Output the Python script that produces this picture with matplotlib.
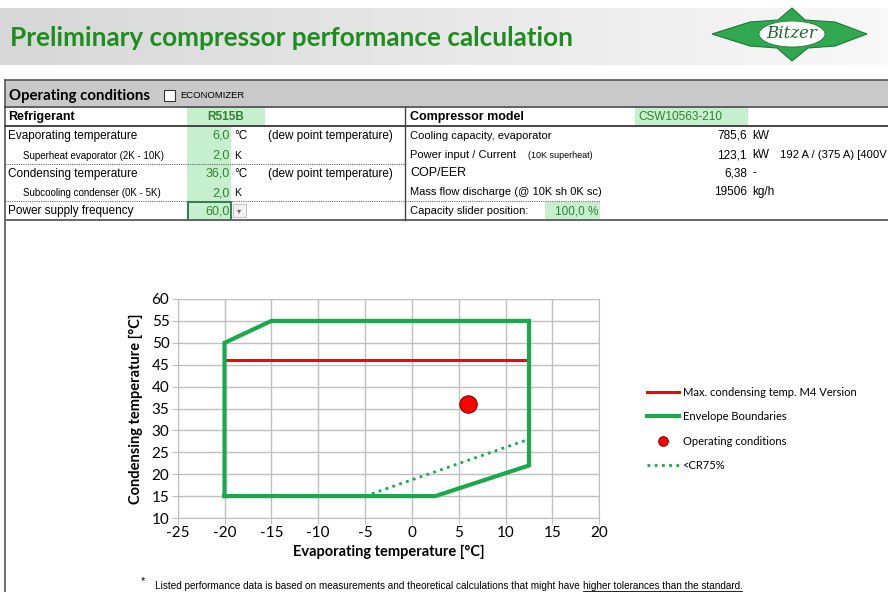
import matplotlib
matplotlib.use("Agg")
import matplotlib.pyplot as plt
import numpy as np
from matplotlib.patches import Rectangle, Polygon, Ellipse

plt.rcParams["axes.unicode_minus"] = False

# chart data
envelope_x = [-20, -20, -15, 12.5, 12.5, 2.5, -20]
envelope_y = [15, 50, 55, 55, 22, 15, 15]
max_cond_x = [-20, 12.5]
max_cond_y = [46, 46]
op_x = [6]
op_y = [36]
cr75_x = [-5, 12.5]
cr75_y = [15, 28]
x_ticks = [-25, -20, -15, -10, -5, 0, 5, 10, 15, 20]
y_ticks = [10, 15, 20, 25, 30, 35, 40, 45, 50, 55, 60]

# table data
left_labels = ["Evaporating temperature", "Superheat evaporator (2K - 10K)",
               "Condensing temperature", "Subcooling condenser (0K - 5K)",
               "Power supply frequency"]
left_indent = [False, True, False, True, False]
left_values = ["6,0", "2,0", "36,0", "2,0", "60,0"]
left_units = ["°C", "K", "°C", "K", ""]
left_notes = ["(dew point temperature)", "", "(dew point temperature)", "", ""]
refrigerant = "R515B"
right_labels = ["Cooling capacity, evaporator", "Power input / Current",
                "COP/EER", "Mass flow discharge (@ 10K sh 0K sc)"]
right_values = ["785,6", "123,1", "6,38", "19506"]
right_units = ["kW", "kW", "-", "kg/h"]
current = "192 A / (375 A) [400V"
compressor = "CSW10563-210"
slider = "100,0 %"

GREEN = "#19a84a"
CELL = "#c6efce"
VAL = "#2f832f"

fig = plt.figure(figsize=(8.88, 5.92), dpi=100)
bg = fig.add_axes([0, 0, 1, 1])
bg.set_xlim(0, 888); bg.set_ylim(592, 0); bg.axis("off")
r = fig.canvas.get_renderer()

# banner
grad = np.linspace(0.84, 0.97, 256).reshape(1, -1)
bg.imshow(grad, extent=(0, 888, 65, 8), cmap="gray", vmin=0, vmax=1, aspect="auto", zorder=0)
bg.text(10, 38, "Preliminary compressor performance calculation", fontsize=18.8,
        fontweight="bold", family="Lato", color="#1e8c1e", va="center")

# logo
logo = Polygon([(712, 34), (750, 22), (778, 20), (792, 8), (805, 20), (835, 22), (867, 34),
                (835, 46), (808, 48), (792, 61), (777, 48), (750, 46)],
               closed=True, fc="#2fa84f", ec="#1c7a34", lw=0.8, zorder=2)
bg.add_patch(logo)
bg.add_patch(Ellipse((792, 34), 66, 26, fc="white", ec="#1c7a34", lw=0.6, zorder=3))
bg.text(792, 34, "Bitzer", fontsize=12, family="DejaVu Serif", style="italic",
        color="#1c6a2c", ha="center", va="center", zorder=4)

# table frame
bg.add_patch(Rectangle((5, 80), 883, 26, fc="#c9c9c9", ec="none"))
bg.plot([5, 888], [80, 80], color="#555555", lw=1.2)
bg.plot([5, 5], [80, 592], color="#555555", lw=1.2)
bg.plot([5, 888], [106.5, 106.5], color="#444444", lw=1.2)
bg.plot([5, 888], [126, 126], color="#444444", lw=1.4)
bg.plot([5, 888], [220, 220], color="#666666", lw=1.4)
bg.plot([405, 405], [107, 220], color="#444444", lw=1.0)
for yy in (164, 201):
    bg.plot([5, 405], [yy, yy], color="#666666", lw=0.8, ls=(0, (1, 1)))
bg.plot([405, 600], [201, 201], color="#666666", lw=0.8, ls=(0, (1, 1)))

bg.text(9, 96, "Operating conditions", fontsize=10.8, fontweight="bold", family="Lato", va="center")
bg.add_patch(Rectangle((164, 90), 11, 11, fc="white", ec="#333333", lw=0.8))
bg.text(180, 96, "ECONOMIZER", fontsize=6.8, family="Liberation Sans", va="center")

# green cells
bg.add_patch(Rectangle((187, 107), 78, 19, fc=CELL, ec="none"))
bg.add_patch(Rectangle((187, 126), 44, 94, fc=CELL, ec="none"))
bg.add_patch(Rectangle((635, 107), 113, 19, fc=CELL, ec="none"))
bg.add_patch(Rectangle((545, 202), 55, 18, fc=CELL, ec="none"))
bg.add_patch(Rectangle((187.5, 201.5), 43, 18.5, fc="none", ec="#217346", lw=1.3))
bg.add_patch(Rectangle((233, 204), 13, 13, fc="#f2f2f2", ec="#bbbbbb", lw=0.6))
bg.text(239.5, 210.5, "▾", fontsize=6, ha="center", va="center", color="#666666")

bg.text(8, 117, "Refrigerant", fontsize=9, fontweight="bold", family="Liberation Sans", va="center")
bg.text(226, 117, refrigerant, fontsize=8.5, family="Liberation Sans", fontweight="bold",
        color=VAL, ha="center", va="center")
row_y = [136, 156, 174, 193, 211]
for y, lab, ind, v, u, n in zip(row_y, left_labels, left_indent, left_values, left_units, left_notes):
    bg.text(23 if ind else 8, y, lab, fontsize=7 if ind else 8.5, family="Liberation Sans", va="center")
    bg.text(230, y, v, fontsize=9, family="Liberation Sans", color=VAL, ha="right", va="center")
    if u:
        bg.text(234, y, u, fontsize=8.5 if u != "K" else 7.5, family="Liberation Sans", va="center")
    if n:
        bg.text(268, y, n, fontsize=8.5, family="Liberation Sans", va="center")

bg.text(410, 117, "Compressor model", fontsize=9, fontweight="bold", family="Liberation Sans", va="center")
bg.text(638, 117, compressor, fontsize=8.5, family="Liberation Sans", color=VAL, va="center")
r_y = [136, 155, 173, 192]
for y, lab, v, u in zip(r_y, right_labels, right_values, right_units):
    fs = 9 if lab == "COP/EER" else 8
    bg.text(410, y, lab, fontsize=fs, family="Liberation Sans", va="center")
    bg.text(747, y, v, fontsize=8.5, family="Liberation Sans", ha="right", va="center")
    bg.text(752, y, u, fontsize=8.5, family="Liberation Sans", va="center")
bg.text(528, 155, "(10K superheat)", fontsize=6.5, family="Liberation Sans", va="center")
tc = bg.text(780, 155, current, fontsize=8.5, family="Liberation Sans", va="center")
w = tc.get_window_extent(r).width
if w > 106:
    tc.set_fontsize(8.5 * 106 / w)
bg.text(410, 211, "Capacity slider position:", fontsize=8, family="Liberation Sans", va="center")
bg.text(598, 211, slider, fontsize=8.5, family="Liberation Sans", color=VAL, ha="right", va="center")

# chart
ax = fig.add_axes([177.7 / 888, 1 - 518 / 592, (599.3 - 177.7) / 888, (518 - 299) / 592])
l1, = ax.plot(max_cond_x, max_cond_y, color="#ff0000", lw=2.2, zorder=3,
              label="Max. condensing temp. M4 Version")
l2, = ax.plot(envelope_x, envelope_y, color=GREEN, lw=3, zorder=3,
              label="Envelope Boundaries", solid_joinstyle="miter")
l3, = ax.plot(op_x, op_y, "o", ms=12.5, mfc="#ff0000", mec="#8b0000", mew=0.8, zorder=4,
              label="Operating conditions", ls="none")
l4, = ax.plot(cr75_x, cr75_y, color=GREEN, lw=2, ls=(0, (1, 1.6)), zorder=3, label="<CR75%")
ax.set_xlim(-25, 20); ax.set_ylim(10, 60)
ax.set_xticks(x_ticks); ax.set_yticks(y_ticks)
ax.grid(True, color="#bfbfbf", lw=1)
ax.set_axisbelow(True)
for s in ax.spines.values():
    s.set_color("#bfbfbf")
ax.tick_params(length=4, color="#bfbfbf", labelsize=11, pad=2)
for lab in ax.get_xticklabels() + ax.get_yticklabels():
    lab.set_family("Lato")
ax.set_xlabel("Evaporating temperature [°C]", fontsize=10.5, fontweight="bold", family="Lato", labelpad=3)
ax.set_ylabel("Condensing temperature [°C]", fontsize=10.5, fontweight="bold", family="Lato", labelpad=6)

fig.legend(handles=[l1, l2, l3, l4], loc="center left", bbox_to_anchor=(637 / 888, 1 - 429 / 592),
           frameon=False, prop={"family": "Lato", "size": 8}, handlelength=2.9, handletextpad=0.3,
           labelspacing=1.2, markerscale=0.55)

# footnote
bg.text(141, 581, "*", fontsize=8, family="Liberation Sans", va="center")
pre = "Listed performance data is based on measurements and theoretical calculations that might have "
t1 = bg.text(155, 586, pre, fontsize=7.2, family="Liberation Sans", va="center")
bb = t1.get_window_extent(r)
x2 = 155 + bb.width
t2 = bg.text(x2, 586, "higher tolerances than the standard.", fontsize=7.2,
             family="Liberation Sans", va="center")
bb2 = t2.get_window_extent(r)
bg.plot([x2, x2 + bb2.width], [591, 591], color="black", lw=0.6)

fig.savefig("out.png", dpi=100)
